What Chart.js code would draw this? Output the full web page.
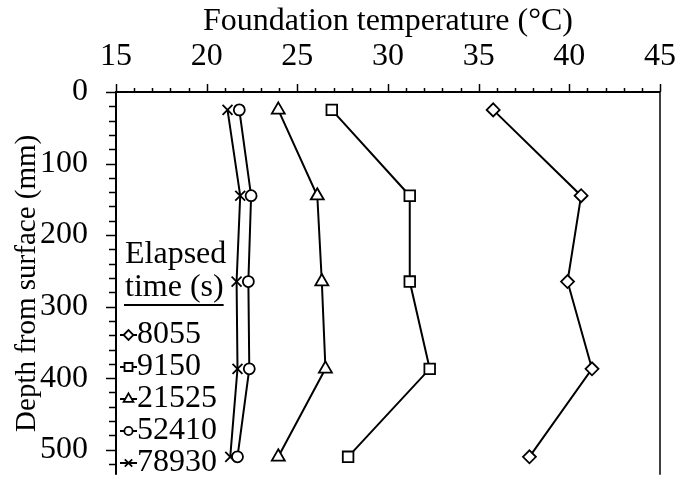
<!DOCTYPE html>
<html>
<head>
<meta charset="utf-8">
<script src="https://cdn.jsdelivr.net/npm/chart.js@4.4.0/dist/chart.umd.min.js"></script>
<style>
html, body { margin: 0; padding: 0; background: #fff; }
</style>
</head>
<body>
<canvas id="myChart" width="678" height="484"></canvas>
<script>
// depth of each sensor (mm) and temperature per elapsed time (°C)
const depths = [25, 145, 265, 387, 510];
const seriesNames = ['8055', '9150', '21525', '52410', '78930'];
const temp8055 = [35.8, 40.65, 39.9, 41.25, 37.8];
const temp9150 = [26.9, 31.2, 31.2, 32.3, 27.8];
const temp21525 = [23.95, 26.1, 26.35, 26.55, 23.95];
const temp52410 = [21.8, 22.45, 22.3, 22.35, 21.7];
const temp78930 = [21.15, 21.85, 21.65, 21.7, 21.3];
const xTicks = [15, 20, 25, 30, 35, 40, 45];
const yTicks = [0, 100, 200, 300, 400, 500];

const FONT = "'Liberation Serif', 'Times New Roman', serif";
const markers = ['rectRot', 'rect', 'triangle', 'circle', 'crossRot'];
const markerSize = [6.5, 7.5, 7.5, 5.5, 7];
const allTemps = [temp8055, temp9150, temp21525, temp52410, temp78930];

function drawMarker(ctx, style, r, x, y) {
    ctx.save();
    ctx.fillStyle = '#fff';
    ctx.strokeStyle = '#000';
    ctx.lineWidth = 1.8;
    if (Chart.helpers && Chart.helpers.drawPoint) {
        Chart.helpers.drawPoint(ctx, {pointStyle: style, radius: r, rotation: 0, borderWidth: 1.8}, x, y);
    }
    ctx.restore();
}

// no extra room for labels hanging past the axis ends
function fixBox(scale) {
    scale.paddingLeft = 0;
    scale.paddingRight = 0;
    scale.paddingTop = 0;
    scale.paddingBottom = 0;
}

const framePlugin = {
    id: 'frame',
    afterDraw(chart) {
        const ctx = chart.ctx;
        const area = chart.chartArea;
        const xs = chart.scales.x;
        const ys = chart.scales.y;
        ctx.save();
        ctx.strokeStyle = '#000';
        // frame
        ctx.lineWidth = 2;
        ctx.beginPath();
        ctx.moveTo(area.left, area.bottom);
        ctx.lineTo(area.left, area.top);
        ctx.lineTo(area.right, area.top);
        ctx.stroke();
        ctx.lineWidth = 1.5;
        ctx.beginPath();
        ctx.moveTo(area.right, area.top);
        ctx.lineTo(area.right, area.bottom);
        ctx.stroke();
        // x ticks, every 1 degree, long every 5
        ctx.lineWidth = 1.5;
        for (let v = xs.min; v <= xs.max; v++) {
            const px = Math.round(xs.getPixelForValue(v)) + 0.5;
            const len = v % 5 === 0 ? 8 : 4;
            ctx.beginPath();
            ctx.moveTo(px, area.top);
            ctx.lineTo(px, area.top - len);
            ctx.stroke();
        }
        // y ticks, every 20 mm, long every 100
        for (let v = 0; v <= ys.max; v += 20) {
            const py = Math.round(ys.getPixelForValue(v)) + 0.5;
            const len = v % 100 === 0 ? 10 : 7;
            ctx.beginPath();
            ctx.moveTo(area.left, py);
            ctx.lineTo(area.left - len, py);
            ctx.stroke();
        }

        // legend
        ctx.fillStyle = '#000';
        ctx.font = '32px ' + FONT;
        ctx.textBaseline = 'middle';
        ctx.textAlign = 'left';
        ctx.fillText('Elapsed', 125, 255);
        ctx.fillText('time (s)', 125, 288);
        const w = ctx.measureText('time (s)').width;
        ctx.lineWidth = 2;
        ctx.beginPath();
        ctx.moveTo(124, 305);
        ctx.lineTo(125 + w, 305);
        ctx.stroke();
        seriesNames.forEach(function(name, i) {
            const y = 335 + i * 32;
            ctx.lineWidth = 2;
            ctx.beginPath();
            ctx.moveTo(120, y);
            ctx.lineTo(137, y);
            ctx.stroke();
            drawMarker(ctx, markers[i], markerSize[i] * 0.75, 128.5, y);
            ctx.fillStyle = '#000';
            ctx.fillText(name, 137, y);
        });
        ctx.restore();
    }
};

const datasets = seriesNames.map(function(name, i) {
    return {
        label: name,
        data: depths.map((d, k) => ({x: allTemps[i][k], y: d})),
        showLine: true,
        borderColor: '#000',
        borderWidth: 2,
        pointStyle: markers[i],
        pointRadius: markerSize[i],
        pointBorderWidth: 1.8,
        pointBackgroundColor: '#fff',
        pointBorderColor: '#000',
        tension: 0
    };
});

const myChart = new Chart(document.getElementById('myChart'), {
    type: 'scatter',
    data: {datasets: datasets},
    options: {
        responsive: false,
        animation: false,
        devicePixelRatio: 1,
        layout: {padding: {left: 0, right: 18, top: 0, bottom: 0}},
        plugins: {legend: {display: false}, tooltip: {enabled: false}},
        scales: {
            x: {
                type: 'linear',
                position: 'top',
                min: 15,
                max: 45,
                afterBuildTicks: (scale) => { scale.ticks = xTicks.map(v => ({value: v})); },
                afterFit: (scale) => { scale.height = 92; fixBox(scale); },
                grid: {display: false, drawTicks: false},
                border: {display: false},
                ticks: {color: '#000', font: {family: FONT, size: 32}, padding: 16, maxRotation: 0},
                title: {display: true, text: 'Foundation temperature (°C)', color: '#000',
                        font: {family: FONT, size: 32}, padding: {top: 2, bottom: 0}}
            },
            y: {
                type: 'linear',
                reverse: true,
                min: 0,
                max: 535,
                afterBuildTicks: (scale) => { scale.ticks = yTicks.map(v => ({value: v})); },
                afterFit: (scale) => { scale.width = 116; fixBox(scale); },
                grid: {display: false, drawTicks: false},
                border: {display: false},
                ticks: {color: '#000', font: {family: FONT, size: 32}, padding: 28},
                title: {display: true, text: 'Depth from surface (mm)', color: '#000',
                        font: {family: FONT, size: 29}, padding: {top: 10, bottom: 0}}
            }
        }
    },
    plugins: [framePlugin]
});
</script>
</body>
</html>
